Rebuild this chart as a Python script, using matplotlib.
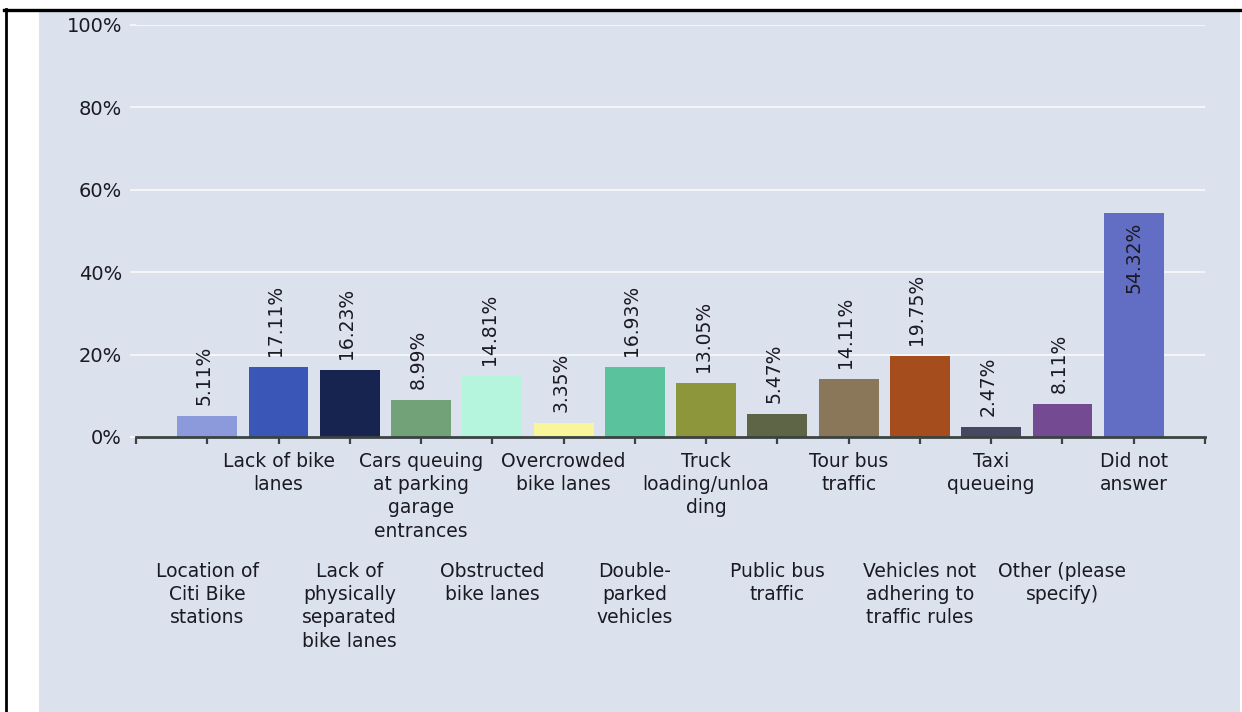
import matplotlib
matplotlib.use("Agg")
import matplotlib.pyplot as plt
from matplotlib.patches import Rectangle
from matplotlib.lines import Line2D

# Survey answers (bar order as shown)
categories = [
    "Location of\nCiti Bike\nstations",
    "Lack of bike\nlanes",
    "Lack of\nphysically\nseparated\nbike lanes",
    "Cars queuing\nat parking\ngarage\nentrances",
    "Obstructed\nbike lanes",
    "Overcrowded\nbike lanes",
    "Double-\nparked\nvehicles",
    "Truck\nloading/unloa\nding",
    "Public bus\ntraffic",
    "Tour bus\ntraffic",
    "Vehicles not\nadhering to\ntraffic rules",
    "Taxi\nqueueing",
    "Other (please\nspecify)",
    "Did not\nanswer",
]
values = [5.11, 17.11, 16.23, 8.99, 14.81, 3.35, 16.93, 13.05, 5.47, 14.11, 19.75, 2.47, 8.11, 54.32]
yticks = [0, 20, 40, 60, 80, 100]
bar_colors = ["#8c9adc", "#3a57b8", "#17244f", "#72a277", "#b5f5dd", "#f8f59a", "#5ac29c",
              "#8e963c", "#5e6546", "#8a775a", "#a64d1e", "#464862", "#744a93", "#626ec4"]

TEXT = "#1a1a22"
PANEL = "#dce1ee"
AXIS = "#3a4242"

plt.rcParams["font.family"] = ["DejaVu Sans"]

fig = plt.figure(figsize=(12.42, 7.12), dpi=100, facecolor="white")
W, H = 1242, 712

# light panel behind the chart
fig.add_artist(Rectangle((39 / W, 0), (1240 - 39) / W, (712 - 12) / H,
                         transform=fig.transFigure, facecolor=PANEL, edgecolor="none", zorder=-2))
# black window border (top and left)
fig.add_artist(Line2D([4 / W, 1], [1 - 9.5 / H, 1 - 9.5 / H], transform=fig.transFigure,
                      color="black", linewidth=2.4))
fig.add_artist(Line2D([5.5 / W, 5.5 / W], [0, 1 - 8.5 / H], transform=fig.transFigure,
                      color="black", linewidth=2.0))

ax = fig.add_axes([136 / W, 1 - 437 / H, (1205 - 136) / W, (437 - 25) / H])
ax.set_facecolor("none")

x = list(range(len(values)))
ax.bar(x, values, width=0.84, color=bar_colors, edgecolor="none", zorder=3)

ax.set_xlim(-1, len(values))
ax.set_ylim(0, 100)

ax.set_yticks(yticks)
ax.set_yticklabels([f"{v}%" for v in yticks], fontsize=14, color=TEXT)
ax.yaxis.grid(True, color="#f4f6fa", linewidth=1.4, zorder=0)
ax.tick_params(axis="y", colors="#f4f6fa", length=4, width=1.4, pad=6, labelcolor=TEXT)

ax.set_xticks(range(-1, len(values) + 1))
ax.set_xticklabels([])
ax.tick_params(axis="x", colors=AXIS, length=5, width=1.6, direction="out")

for side in ["top", "right", "left"]:
    ax.spines[side].set_visible(False)
ax.spines["bottom"].set_color(AXIS)
ax.spines["bottom"].set_linewidth(2.0)
ax.spines["bottom"].set_zorder(4)

# value labels
for i, v in enumerate(values):
    if v > 50:
        ax.annotate(f"{v:.2f}%", (i, v), xytext=(0, -9), textcoords="offset pixels",
                    rotation=90, ha="center", va="top", fontsize=13.5, color=TEXT, zorder=5)
    else:
        ax.annotate(f"{v:.2f}%", (i, v), xytext=(-3, 11), textcoords="offset pixels",
                    rotation=90, ha="center", va="bottom", fontsize=13.5, color=TEXT, zorder=5)

# category labels staggered in two rows
for i, lab in enumerate(categories):
    dy = -15 if i % 2 == 1 else -125
    ax.annotate(lab, (i, 0), xycoords=("data", "axes fraction"), xytext=(0, dy),
                textcoords="offset pixels", ha="center", va="top", multialignment="center",
                fontsize=13.5, color=TEXT, linespacing=1.28, annotation_clip=False)

fig.savefig("out.png", dpi=100, facecolor="white")
